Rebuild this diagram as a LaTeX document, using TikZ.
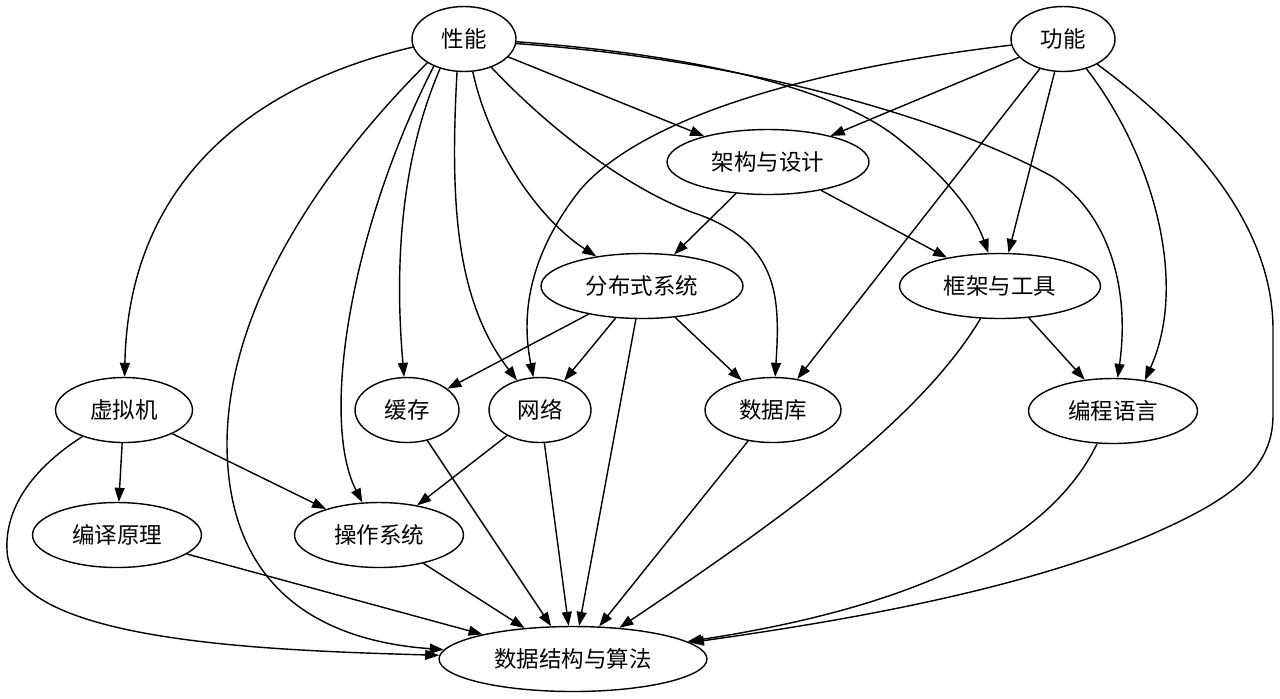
\documentclass[tikz,border=0pt]{standalone}
\usepackage{fontspec}
\newfontfamily\cjk{Noto Sans CJK SC}
\usetikzlibrary{shapes.geometric,arrows.meta}
\begin{document}
\begin{tikzpicture}[x=0.02cm,y=-0.02cm,
  nd/.style={draw,ellipse,line width=0.8pt,inner sep=0pt,minimum height=1.3cm,
    font=\cjk\fontsize{12.8pt}{14pt}\selectfont},
  ed/.style={line width=0.8pt,-{Triangle[length=0.28cm,width=0.2cm]}}]
\useasboundingbox (0,0) rectangle (1280,698);
% nodes
\node[nd,minimum width=2.08cm] (xn)  at (464,39)  {性能};
\node[nd,minimum width=2.08cm] (gn)  at (1063,39) {功能};
\node[nd,minimum width=4.04cm] (jg)  at (768,162) {架构与设计};
\node[nd,minimum width=4.04cm] (fb)  at (642,286) {分布式系统};
\node[nd,minimum width=4.02cm] (kj)  at (1000,286) {框架与工具};
\node[nd,minimum width=2.74cm] (xnj) at (124,410) {虚拟机};
\node[nd,minimum width=2.08cm] (hc)  at (407,410) {缓存};
\node[nd,minimum width=2.04cm] (wl)  at (540,410) {网络};
\node[nd,minimum width=2.72cm] (sjk) at (773,410) {数据库};
\node[nd,minimum width=3.38cm] (bc)  at (1113,411) {编程语言};
\node[nd,minimum width=3.38cm] (by)  at (117,535) {编译原理};
\node[nd,minimum width=3.38cm] (cz)  at (379,535) {操作系统};
\node[nd,minimum width=5.36cm] (sj)  at (573,659) {数据结构与算法};
% edges from 性能
\draw[ed] (xn.189) .. controls (230,90) and (128,200) .. (xnj);
\draw[ed] (xn.213) .. controls (330,160) and (228,300) .. (227,443)
  .. controls (227,580) and (310,640) .. (sj);
\draw[ed] (xn.222) .. controls (350,230) and (320,420) .. (cz);
\draw[ed] (xn.231) .. controls (405,150) and (393,250) .. (hc);
\draw[ed] (xn.258) .. controls (450,200) and (455,300) .. (wl);
\draw[ed] (xn.285) .. controls (490,150) and (540,220) .. (fb);
\draw[ed] (xn.314) .. controls (560,140) and (640,195) .. (700,215)
  .. controls (780,245) and (780,300) .. (sjk);
\draw[ed] (xn) -- (jg);
\draw[ed] (xn.357) .. controls (700,55) and (840,90) .. (900,140)
  .. controls (950,180) and (975,215) .. (kj);
\draw[ed] (xn.355) .. controls (750,60) and (950,120) .. (1053,177)
  .. controls (1110,215) and (1130,290) .. (bc);
% edges from 功能
\draw[ed] (gn) .. controls (800,70) and (640,120) .. (580,190)
  .. controls (525,260) and (522,320) .. (wl);
\draw[ed] (gn) -- (jg);
\draw[ed] (gn) -- (sjk);
\draw[ed] (gn) -- (kj);
\draw[ed] (gn) .. controls (1150,150) and (1190,280) .. (bc.44);
\draw[ed] (gn) .. controls (1200,140) and (1273,230) .. (1273,330)
  -- (1273,415) .. controls (1273,470) and (1230,500) .. (1150,535)
  .. controls (1020,590) and (850,620) .. (sj);
% other edges
\draw[ed] (jg) -- (fb);
\draw[ed] (jg) -- (kj);
\draw[ed] (fb) -- (hc);
\draw[ed] (fb) -- (wl);
\draw[ed] (fb) -- (sjk);
\draw[ed] (fb) -- (sj);
\draw[ed] (kj) -- (bc);
\draw[ed] (kj) .. controls (920,420) and (780,520) .. (sj);
\draw[ed] (xnj) -- (by);
\draw[ed] (xnj) -- (cz);
\draw[ed] (xnj) .. controls (30,470) and (5,510) .. (7,550)
  .. controls (10,640) and (250,650) .. (sj);
\draw[ed] (hc) -- (sj);
\draw[ed] (wl) -- (cz);
\draw[ed] (wl) -- (sj);
\draw[ed] (sjk) -- (sj);
\draw[ed] (bc) .. controls (1060,520) and (960,600) .. (sj);
\draw[ed] (by) -- (sj);
\draw[ed] (cz) -- (sj);
\end{tikzpicture}
\end{document}
